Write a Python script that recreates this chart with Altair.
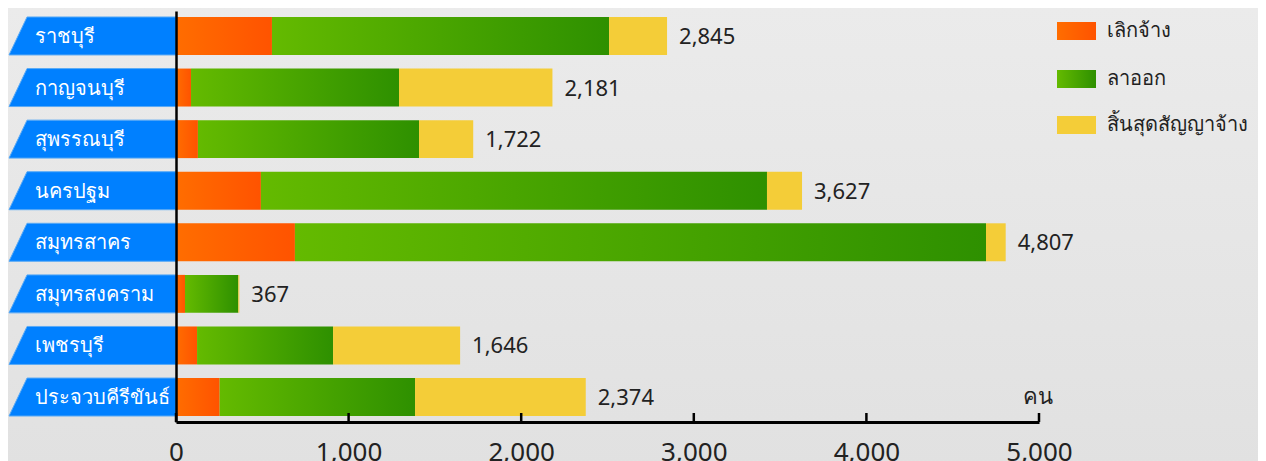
import altair as alt
import pandas as pd

provinces = ["ราชบุรี", "กาญจนบุรี", "สุพรรณบุรี", "นครปฐม",
             "สมุทรสาคร", "สมุทรสงคราม", "เพชรบุรี", "ประจวบคีรีขันธ์"]
series_names = ["เลิกจ้าง", "ลาออก", "สิ้นสุดสัญญาจ้าง"]
dismissed = [556, 87, 127, 492, 689, 52, 122, 253]
resigned = [1953, 1205, 1281, 2932, 4004, 309, 788, 1132]
contract_end = [336, 889, 314, 203, 114, 6, 736, 989]
totals = [2845, 2181, 1722, 3627, 4807, 367, 1646, 2374]
tick_values = [0, 1000, 2000, 3000, 4000, 5000]
unit_label = "คน"

W, H = 863, 411
FONT = "Noto Sans"
THAI = "Noto Sans"

df = pd.DataFrame({"province": provinces, "d": dismissed, "r": resigned,
                   "c": contract_end, "total": totals})
df["d0"] = 0
df["d1"] = df["d"]
df["r0"] = df["d1"]
df["r1"] = df["r0"] + df["r"]
df["c0"] = df["r1"]
df["c1"] = df["c0"] + df["c"]

ticks_df = pd.DataFrame({"v": tick_values})

def hgrad(c0, c1):
    return alt.LinearGradient(gradient="linear",
                              stops=[alt.GradientStop(color=c0, offset=0),
                                     alt.GradientStop(color=c1, offset=1)],
                              x1=0, x2=1, y1=0, y2=0)

ORANGE = hgrad("#ff6d00", "#ff5300")
GREEN = hgrad("#64ba00", "#2e9000")
YELLOW = "#f4cd38"
fills = [ORANGE, GREEN, YELLOW]

xscale = alt.Scale(domain=[0, 5000], nice=False)
yscale = alt.Scale(domain=provinces, paddingInner=0.264, paddingOuter=0.116)

X_AXIS = alt.Axis(values=tick_values, title=None, grid=False,
                  labelExpr="format(datum.value, ',')",
                  tickSize=0, domainColor="#000000", domainWidth=3,
                  labelFontSize=26, labelFont=FONT, labelColor="#222222",
                  labelPadding=17, labelFlush=False, zindex=2)
Y_AXIS = alt.Axis(labels=False, ticks=False, title=None, grid=False,
                  domainColor="#000000", domainWidth=2.5, zindex=2)

def X(field):
    return alt.X(field, type="quantitative", scale=xscale, axis=X_AXIS)

Y = alt.Y("province:N", scale=yscale, sort=provinces, axis=Y_AXIS)

base = alt.Chart(df)

bg = base.mark_rect(
    color=alt.LinearGradient(gradient="linear",
                             stops=[alt.GradientStop(color="#ebebeb", offset=0),
                                    alt.GradientStop(color="#e1e1e1", offset=1)],
                             x1=0, x2=0, y1=0, y2=1)
).encode(x=alt.value(-170), x2=alt.value(1090), y=alt.value(-5), y2=alt.value(H + 45))

banner_path = "M -0.784 -0.2275 L 1 -0.2275 L 1 0.2275 L -1 0.2275 Z"
banners = base.mark_point(shape=banner_path, size=27889, filled=True,
                          color="#0080ff", opacity=1, stroke="#5aaaf5",
                          strokeWidth=1).encode(
    x=alt.value(-83.5), y=Y)

banner_text = base.mark_text(align="left", baseline="middle", color="white",
                             font=THAI, fontSize=20, dy=1).encode(
    x=alt.value(-141), y=Y, text="province:N")

bars_d = base.mark_bar(color=ORANGE).encode(x=X("d0"), x2="d1:Q", y=Y)
bars_r = base.mark_bar(color=GREEN).encode(x=X("r0"), x2="r1:Q", y=Y)
bars_c = base.mark_bar(color=YELLOW).encode(x=X("c0"), x2="c1:Q", y=Y)

values_txt = base.mark_text(align="left", baseline="middle", dx=12, dy=1,
                            font=FONT, fontSize=22, color="#222222").encode(
    x=X("total"), y=Y, text=alt.Text("total:Q", format=","))

ticks = alt.Chart(ticks_df).mark_rule(color="#000000", strokeWidth=2.5).encode(
    x=X("v"), y=alt.value(H - 9), y2=alt.value(H))

unit = alt.Chart(pd.DataFrame({"t": [unit_label]})).mark_text(
    align="center", baseline="middle", font=THAI, fontSize=22, color="#222222").encode(
    x=alt.value(862), y=alt.value(386), text="t:N")

legend_layers = []
leg_y = [11, 59, 105]
for name, fill, y0 in zip(series_names, fills, leg_y):
    ld = alt.Chart(pd.DataFrame({"name": [name]}))
    legend_layers.append(ld.mark_rect(color=fill).encode(
        x=alt.value(881), x2=alt.value(920), y=alt.value(y0), y2=alt.value(y0 + 18)))
    legend_layers.append(ld.mark_text(align="left", baseline="middle", font=THAI,
                                      fontSize=20, color="#222222").encode(
        x=alt.value(931), y=alt.value(y0 + 9), text="name:N"))

chart = alt.layer(bg, banners, banner_text, bars_d, bars_r, bars_c, values_txt,
                  ticks, unit, *legend_layers).properties(
    width=W, height=H,
    padding={"left": 168, "top": 3, "right": 219, "bottom": 39},
    autosize=alt.AutoSizeParams(type="none"),
    background="#e7e7e7",
).configure_view(stroke=None)

chart.save("out.html", embed_options={"renderer": "svg", "actions": False})
